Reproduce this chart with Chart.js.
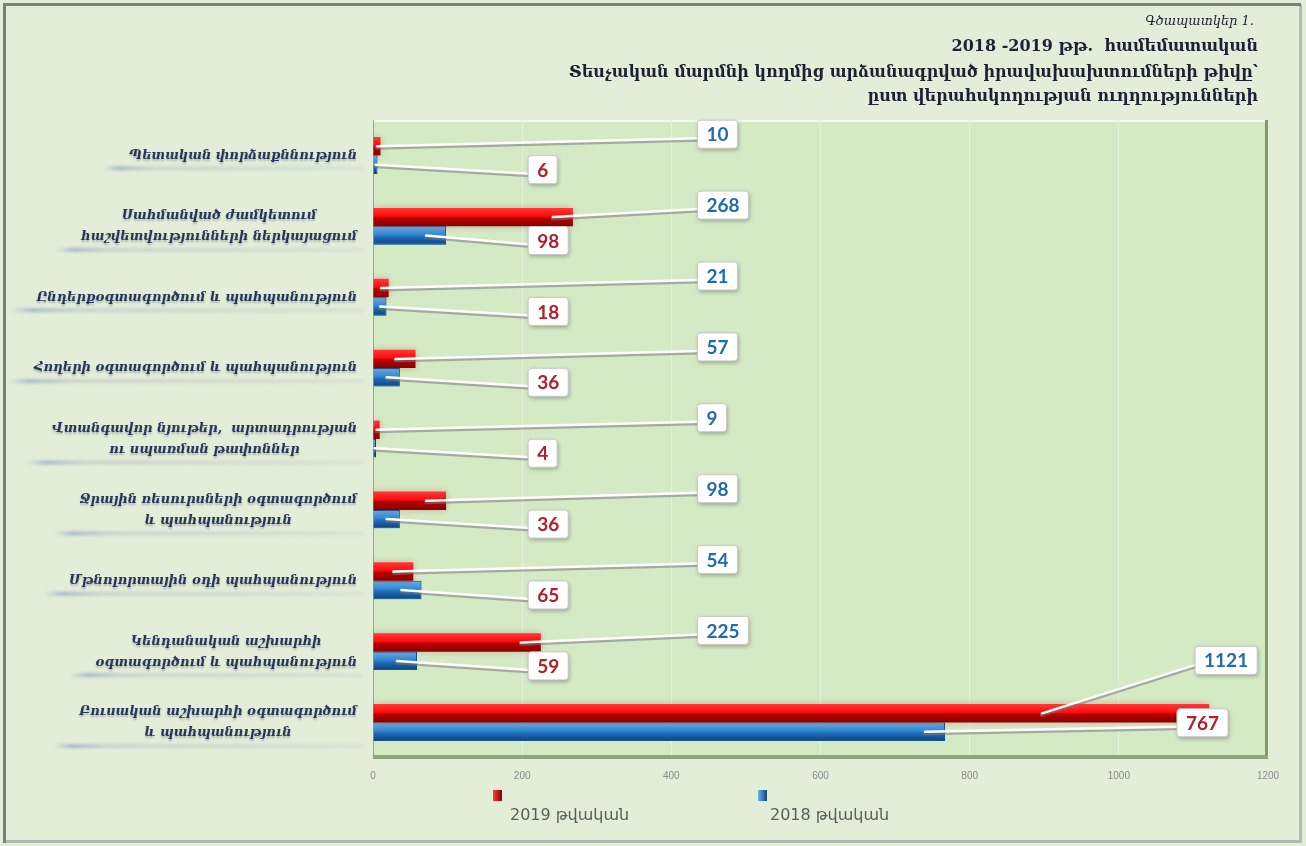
<!DOCTYPE html>
<html>
<head>
<meta charset="utf-8">
<script src="https://cdn.jsdelivr.net/npm/chart.js@4.4.1/dist/chart.umd.min.js"></script>
<style>
html, body { margin: 0; padding: 0; background: #e3eed9; }
canvas { display: block; }
</style>
</head>
<body>
<canvas id="chart" width="1306" height="846"></canvas>
<script>
var categories = [
	"Պետական փորձաքննություն",
	["Սահմանված ժամկետում", "հաշվետվությունների ներկայացում"],
	"Ընդերքօգտագործում և պահպանություն",
	"Հողերի օգտագործում և պահպանություն",
	["Վտանգավոր նյութեր,  արտադրության", "ու սպառման թափոններ"],
	["Ջրային ռեսուրսների օգտագործում", "և պահպանություն"],
	"Մթնոլորտային օդի պահպանություն",
	["Կենդանական աշխարհի", "օգտագործում և պահպանություն"],
	["Բուսական աշխարհի օգտագործում", "և պահպանություն"]
];
var values2019 = [10, 268, 21, 57, 9, 98, 54, 225, 1121];
var values2018 = [6, 98, 18, 36, 4, 36, 65, 59, 767];
var seriesNames = ["2019 թվական", "2018 թվական"];
var xTicks = [0, 200, 400, 600, 800, 1000, 1200];
var titleLines = [
	"Գծապատկեր 1.",
	"2018 -2019 թթ.  համեմատական",
	"Տեսչական մարմնի կողմից արձանագրված իրավախախտումների թիվը՝",
	"ըստ վերահսկողության ուղղությունների"
];

var CAT_PCT = 0.52;

function barFill(c, stops) {
	var chart = c.chart;
	if (c.type !== "data" || !chart.chartArea) return stops[1][1];
	var ys = chart.scales.y;
	var step = ys.height / chart.data.labels.length;
	var t = step * CAT_PCT / 2;
	var mid = ys.getPixelForValue(c.dataIndex);
	var y0 = c.datasetIndex === 0 ? mid - t : mid;
	var g = chart.ctx.createLinearGradient(0, y0, 0, y0 + t);
	for (var i = 0; i < stops.length; i++) g.addColorStop(stops[i][0], stops[i][1]);
	return g;
}

var redStops = [[0, "#ff3a3a"], [0.45, "#ff0a0a"], [0.55, "#b40000"], [1, "#8a0000"]];
var blueStops = [[0, "#6cb4ea"], [0.45, "#2f86d2"], [0.6, "#1f69b4"], [1, "#0f427c"]];

function roundRect(ctx, x, y, w, h, r) {
	ctx.beginPath();
	ctx.moveTo(x + r, y);
	ctx.lineTo(x + w - r, y);
	ctx.quadraticCurveTo(x + w, y, x + w, y + r);
	ctx.lineTo(x + w, y + h - r);
	ctx.quadraticCurveTo(x + w, y + h, x + w - r, y + h);
	ctx.lineTo(x + r, y + h);
	ctx.quadraticCurveTo(x, y + h, x, y + h - r);
	ctx.lineTo(x, y + r);
	ctx.quadraticCurveTo(x, y, x + r, y);
	ctx.closePath();
}

// frame, plot background, title
var backdrop = {
	id: "backdrop",
	beforeDraw: function (chart) {
		var ctx = chart.ctx, a = chart.chartArea;
		ctx.save();
		ctx.fillStyle = "#e3eed9";
		ctx.fillRect(0, 0, chart.width, chart.height);
		ctx.strokeStyle = "#b3bab1";
		ctx.lineWidth = 2;
		ctx.strokeRect(1300, 6, 1, 836);
		ctx.strokeRect(6, 841, 1294, 1);
		ctx.strokeStyle = "#7b807a";
		ctx.lineWidth = 3;
		ctx.beginPath();
		ctx.moveTo(4.5, 843);
		ctx.lineTo(4.5, 4.5);
		ctx.lineTo(1301, 4.5);
		ctx.stroke();
		ctx.fillStyle = "#d4eac5";
		ctx.fillRect(a.left, a.top, a.right - a.left, a.bottom - a.top);
		ctx.fillStyle = "#f1f7ec";
		ctx.fillRect(a.left, a.top, a.right - a.left, 2);
		ctx.restore();
	},
	beforeDatasetsDraw: function (chart) {
		var ctx = chart.ctx, a = chart.chartArea;
		ctx.save();
		ctx.fillStyle = "#7f9a6c";
		ctx.fillRect(a.right - 3, a.top, 3, a.bottom - a.top);
		ctx.fillStyle = "#8ca57a";
		ctx.fillRect(a.left, a.bottom - 3, a.right - a.left, 4);
		ctx.restore();
	},
	afterDraw: function (chart) {
		var ctx = chart.ctx;
		ctx.save();
		ctx.textAlign = "right";
		ctx.textBaseline = "middle";
		ctx.fillStyle = "#1c2233";
		ctx.font = "italic 13px 'DejaVu Serif'";
		ctx.fillText(titleLines[0], 1254, 22);
		ctx.font = "bold 16px 'DejaVu Serif'";
		ctx.fillText(titleLines[1], 1258, 47);
		ctx.fillText(titleLines[2], 1258, 73);
		ctx.fillText(titleLines[3], 1258, 97);

		// legend
		var items = [[493, 510], [758, 770]];
		var stops = [redStops, blueStops];
		for (var i = 0; i < 2; i++) {
			var sx = items[i][0];
			var g = ctx.createLinearGradient(sx, 0, sx + 9, 0);
			g.addColorStop(0, stops[i][0][1]);
			g.addColorStop(1, stops[i][3][1]);
			ctx.fillStyle = g;
			ctx.fillRect(sx, 790, 9, 11);
			ctx.fillStyle = "#5b5e5a";
			ctx.font = "16px 'DejaVu Sans'";
			ctx.textAlign = "left";
			ctx.fillText(seriesNames[i], items[i][1], 816);
		}
		ctx.restore();
	}
};

// category labels drawn at the y scale's tick positions
var catLabels = {
	id: "catLabels",
	afterDraw: function (chart) {
		var ctx = chart.ctx, ys = chart.scales.y;
		var right = chart.chartArea.left - 16;
		var lh = 21;
		ctx.save();
		ctx.font = "italic bold 13px 'DejaVu Serif'";
		ctx.textBaseline = "middle";
		ctx.textAlign = "center";
		for (var i = 0; i < chart.data.labels.length; i++) {
			var lab = chart.data.labels[i];
			var lines = Array.isArray(lab) ? lab : [lab];
			var w = 0;
			for (var k = 0; k < lines.length; k++) w = Math.max(w, ctx.measureText(lines[k]).width);
			var cy = ys.getPixelForTick(i);
			var y0 = cy - (lines.length - 1) * lh / 2;
			var cx = right - w / 2;
			// soft underline
			var uy = y0 + (lines.length - 1) * lh + 11;
			var ux = right - w - 26;
			var ug = ctx.createLinearGradient(ux, 0, right + 6, 0);
			ug.addColorStop(0, "rgba(120,150,185,0)");
			ug.addColorStop(0.06, "rgba(110,145,185,0.55)");
			ug.addColorStop(0.18, "rgba(150,165,175,0.35)");
			ug.addColorStop(1, "rgba(150,165,175,0.15)");
			ctx.fillStyle = ug;
			ctx.filter = "blur(1.5px)";
			ctx.fillRect(ux, uy, right + 6 - ux, 4);
			ctx.filter = "none";
			ctx.shadowColor = "rgba(60,70,90,0.35)";
			ctx.shadowBlur = 2;
			ctx.shadowOffsetY = 2;
			ctx.fillStyle = "#26375c";
			for (k = 0; k < lines.length; k++) ctx.fillText(lines[k], cx, y0 + k * lh);
			ctx.shadowColor = "transparent";
		}
		ctx.restore();
	}
};

var barGlow = {
	id: "barGlow",
	beforeDatasetDraw: function (chart, args) {
		var ctx = chart.ctx;
		ctx.save();
		ctx.shadowColor = args.index === 1 ? "rgba(40,140,230,0.8)" : "rgba(150,0,0,0.25)";
		ctx.shadowBlur = 7;
	},
	afterDatasetDraw: function (chart) {
		chart.ctx.restore();
	}
};

// callout value labels
var callouts = {
	id: "callouts",
	afterDatasetsDraw: function (chart) {
		var ctx = chart.ctx, xs = chart.scales.x, a = chart.chartArea;
		var leftAt = [xs.getPixelForValue(435), xs.getPixelForValue(208)];
		var yOff = [-12, 5];
		var colors = ["#1f6cb3", "#b3202b"];
		var boxes = [];
		ctx.save();
		ctx.font = "bold 19px Lato";
		for (var d = 0; d < 2; d++) {
			var meta = chart.getDatasetMeta(d);
			var data = chart.data.datasets[d].data;
			for (var i = 0; i < meta.data.length; i++) {
				var bar = meta.data[i];
				var txt = String(data[i]);
				var w = ctx.measureText(txt).width + 18;
				var h = 28;
				var bx, by, ex;
				var len = bar.x - bar.base;
				if (bar.x + 30 < leftAt[d]) {
					bx = leftAt[d];
					by = bar.y + yOff[d] - h / 2;
					ex = bar.x - Math.min(20, len * 0.5);
				} else if (d === 0) {
					bx = bar.x - 14;
					by = bar.y - 53 - h / 2;
					ex = bar.base + len * 0.8;
				} else {
					bx = a.right - 40 - w;
					by = bar.y - 9 - h / 2;
					ex = bar.x - 20;
				}
				boxes.push([bx, by, w, h, txt, colors[d], ex, bar.y]);
			}
		}
		// leader lines
		for (var j = 0; j < boxes.length; j++) {
			var b = boxes[j];
			var sy = b[1] + b[3] / 2 + 4;
			ctx.lineCap = "round";
			ctx.strokeStyle = "rgba(120,120,120,0.55)";
			ctx.lineWidth = 4;
			ctx.beginPath();
			ctx.moveTo(b[0] + 2, sy + 1.5);
			ctx.lineTo(b[6], b[7] + 1.5);
			ctx.stroke();
			ctx.strokeStyle = "#ffffff";
			ctx.lineWidth = 2.5;
			ctx.beginPath();
			ctx.moveTo(b[0] + 2, sy);
			ctx.lineTo(b[6], b[7]);
			ctx.stroke();
		}
		// boxes
		ctx.textAlign = "center";
		ctx.textBaseline = "middle";
		for (j = 0; j < boxes.length; j++) {
			b = boxes[j];
			ctx.shadowColor = "rgba(0,0,0,0.3)";
			ctx.shadowBlur = 4;
			ctx.shadowOffsetX = 1;
			ctx.shadowOffsetY = 2;
			ctx.fillStyle = "#ffffff";
			roundRect(ctx, b[0], b[1], b[2], b[3], 3);
			ctx.fill();
			ctx.shadowColor = "transparent";
			ctx.strokeStyle = "#c8c8c8";
			ctx.lineWidth = 1;
			ctx.stroke();
			ctx.fillStyle = b[5];
			ctx.fillText(b[4], b[0] + b[2] / 2, b[1] + b[3] / 2 + 1);
		}
		ctx.restore();
	}
};

var chart = new Chart(document.getElementById("chart").getContext("2d"), {
	type: "bar",
	data: {
		labels: categories,
		datasets: [
			{
				label: seriesNames[0],
				data: values2019,
				backgroundColor: function (c) { return barFill(c, redStops); },
				borderColor: "#8a0000",
				borderWidth: 0,
			},
			{
				label: seriesNames[1],
				data: values2018,
				backgroundColor: function (c) { return barFill(c, blueStops); },
				borderColor: "#0c3a6e",
				borderWidth: 1,
			},
		],
	},
	options: {
		indexAxis: "y",
		responsive: false,
		animation: false,
		devicePixelRatio: 1,
		categoryPercentage: CAT_PCT,
		barPercentage: 1,
		layout: { padding: { top: 120, right: 38, left: 0, bottom: 0 } },
		plugins: {
			legend: { display: false },
			title: { display: false },
			tooltip: { enabled: false },
		},
		scales: {
			x: {
				min: 0,
				max: 1200,
				afterBuildTicks: function (scale) {
					scale.ticks = xTicks.map(function (v) { return { value: v }; });
				},
				afterFit: function (scale) { scale.height = 88; },
				grid: { color: "#e4f0dc", lineWidth: 1, drawTicks: false },
				border: { display: false },
				ticks: {
					padding: 12,
					color: "#8a8a8a",
					font: { family: "'Liberation Sans'", size: 10 },
					callback: function (v) { return String(v); },
				},
			},
			y: {
				afterFit: function (scale) { scale.width = 373; },
				grid: { display: false },
				border: { color: "#9aa296", width: 1 },
				ticks: { display: false },
			},
		},
	},
	plugins: [backdrop, barGlow, callouts, catLabels],
});
</script>
</body>
</html>
